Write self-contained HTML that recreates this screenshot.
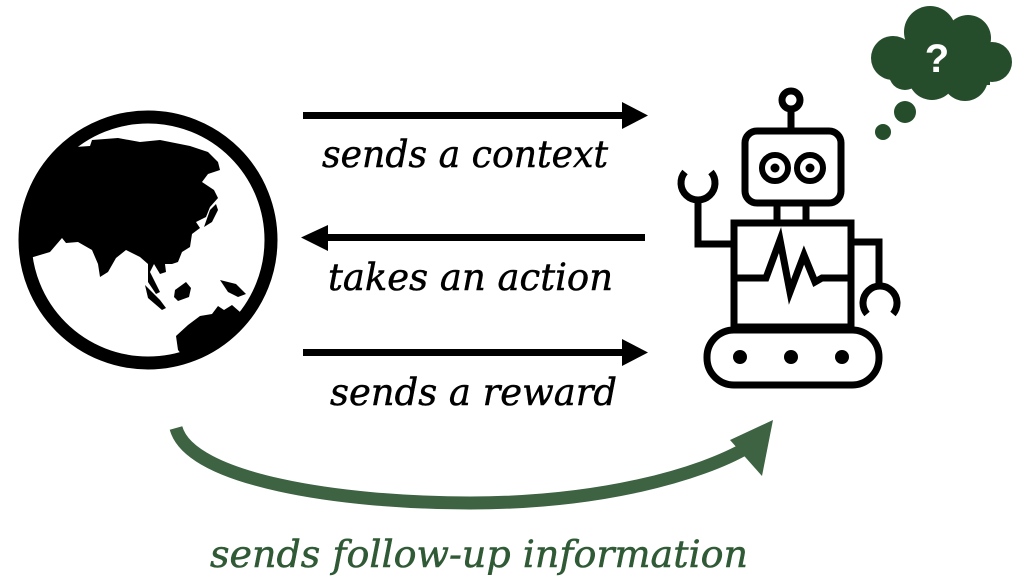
<!DOCTYPE html>
<html><head><meta charset="utf-8"><style>
html,body{margin:0;padding:0;background:#fff;}
svg{display:block;}
text{font-family:"DejaVu Serif","Liberation Serif",serif;font-style:italic;}
</style></head><body>
<svg width="1016" height="588" viewBox="0 0 1016 588" xmlns="http://www.w3.org/2000/svg">
<!-- Globe -->
<defs><clipPath id="gc"><circle cx="148" cy="240" r="122"/></clipPath></defs>
<circle cx="148" cy="240" r="123" fill="none" stroke="#000" stroke-width="13"/>
<g clip-path="url(#gc)" fill="#000">
<path d="M15,175 L60,148 L90,146 L92,140 L118,138 L140,142 L160,140 L190,146 L208,152 L218,162 L220,170 L208,174 L202,182 L214,190 L218,198 L210,207 L206,217 L196,222 L200,228 L192,234 L190,247 L182,252 L178,262 L172,264 L165,264 L166,272 L160,274 L154,264 L150,272 L160,292 L156,294 L148,282 L148,264 L140,257 L126,250 L116,258 L108,272 L100,277 L98,264 L92,250 L78,242 L66,243 L62,238 L50,252 L30,258 L15,258 Z"/>
<path d="M210,210 L216,204 L218,210 L212,222 L204,227 Z"/>
<path d="M145,285 L160,300 L166,308 L162,310 L148,298 Z"/>
<path d="M175,290 L186,282 L191,288 L189,297 L178,301 L174,297 Z"/>
<path d="M220,280 L236,284 L246,294 L238,297 L228,292 Z"/>
<path d="M176,336 L188,325 L200,316 L212,314 L218,306 L224,310 L232,305 L240,312 L262,330 L240,365 L190,365 L178,350 Z"/>
</g>
<!-- Black arrows -->
<g fill="#000">
<rect x="303" y="112" width="322" height="7"/>
<polygon points="622,102 648,115.5 622,129"/>
<rect x="325" y="234" width="320" height="7"/>
<polygon points="328,225 301,237.5 328,251"/>
<rect x="303" y="349" width="322" height="7"/>
<polygon points="622,339 648,352.5 622,366"/>
</g>
<g stroke="#000" stroke-width="0.5">
<text x="322" y="167" font-size="37" textLength="286" lengthAdjust="spacingAndGlyphs">sends a context</text>
<text x="328" y="290" font-size="37" textLength="285" lengthAdjust="spacingAndGlyphs">takes an action</text>
<text x="330" y="405" font-size="37" textLength="287" lengthAdjust="spacingAndGlyphs">sends a reward</text>
</g>
<!-- Green curved arrow -->
<path d="M176,428 C190,480 340,503 470,503 C600,503 700,475 748,447" fill="none" stroke="#3d6343" stroke-width="13"/>
<polygon points="773,420 730,440 762,476" fill="#3d6343"/>
<text x="210" y="567" font-size="37" fill="#2f5a35" stroke="#2f5a35" stroke-width="0.5" textLength="538" lengthAdjust="spacingAndGlyphs">sends follow-up information</text>
<!-- Robot -->
<g fill="none" stroke="#000" stroke-width="7">
<circle cx="791" cy="100" r="9"/>
<line x1="791" y1="109" x2="791" y2="130"/>
<rect x="745" y="131" width="96" height="72" rx="12"/>
<circle cx="775" cy="168" r="13" stroke-width="6"/>
<circle cx="810" cy="168" r="13" stroke-width="6"/>
<line x1="777" y1="203" x2="777" y2="223"/>
<line x1="806" y1="203" x2="806" y2="223"/>
<rect x="734" y="223" width="117" height="104"/>
<polyline points="734,278 766,278 780,240 790,292 804,255 815,282 822,278 851,278" stroke-linejoin="miter"/>
<polyline points="734,244 698,244 698,200"/>
<path d="M685,172 A17,17 0 1 0 711,172"/>
<polyline points="851,242 879,242 879,286"/>
<path d="M867,314 A17,17 0 1 1 893,314"/>
<rect x="707" y="330" width="172" height="55" rx="27"/>
</g>
<g fill="#000">
<circle cx="775" cy="168" r="4.5"/>
<circle cx="810" cy="168" r="4.5"/>
<circle cx="740" cy="357" r="7"/>
<circle cx="791" cy="357" r="7"/>
<circle cx="842" cy="357" r="7"/>
</g>
<!-- Thought cloud -->
<g fill="#264d2b">
<circle cx="905" cy="112" r="11"/>
<circle cx="883" cy="132" r="8"/>
<circle cx="893" cy="58" r="22"/>
<circle cx="930" cy="32" r="26"/>
<circle cx="968" cy="38" r="23"/>
<circle cx="992" cy="62" r="20"/>
<circle cx="965" cy="78" r="23"/>
<circle cx="932" cy="76" r="24"/>
<circle cx="905" cy="74" r="16"/>
<rect x="900" y="45" width="90" height="40"/>
</g>
<text x="937" y="72" font-size="40" fill="#fff" text-anchor="middle" style="font-style:normal;font-family:'Liberation Sans',sans-serif;font-weight:bold">?</text>
</svg>
</body></html>
